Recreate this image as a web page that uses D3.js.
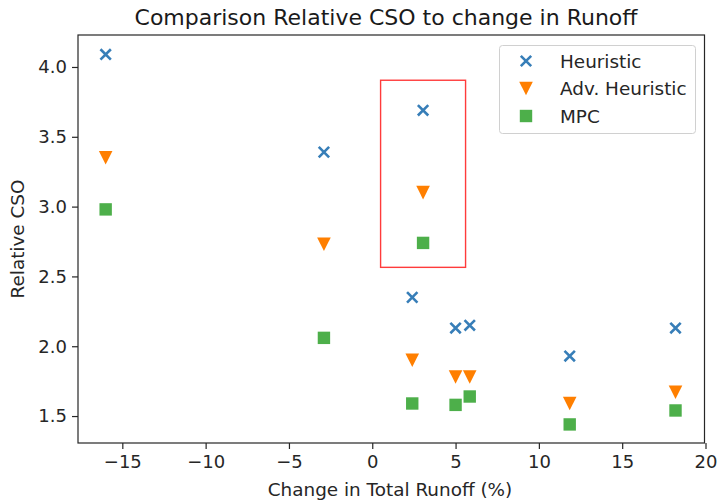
<!DOCTYPE html>
<html>
<head>
<meta charset="utf-8">
<script src="https://cdn.jsdelivr.net/npm/d3@7"></script>
<style>
  html, body { margin: 0; padding: 0; background: #ffffff; }
  svg { display: block; font-family: "DejaVu Sans", sans-serif; }
</style>
</head>
<body>
<svg id="chart" width="717" height="503"></svg>
<script>
// Change in total runoff (%) per scenario
const runoffChange = [-16.0, -2.9, 3.05, 2.4, 5.0, 5.85, 11.85, 18.2];

// Relative CSO per control strategy
const heuristic    = [4.09, 3.39, 3.69, 2.35, 2.13, 2.15, 1.93, 2.13];
const advHeuristic = [3.35, 2.73, 3.10, 1.90, 1.78, 1.78, 1.59, 1.67];
const mpc          = [2.98, 2.06, 2.74, 1.59, 1.58, 1.64, 1.44, 1.54];

const seriesNames = ["Heuristic", "Adv. Heuristic", "MPC"];
const xTicks = [-15, -10, -5, 0, 5, 10, 15, 20];
const yTicks = [1.5, 2.0, 2.5, 3.0, 3.5, 4.0];

// Highlighted region: x from 0.5 to 5.6, y from 2.565 to 3.905
const highlightX = [0.5, 5.6];
const highlightY = [2.565, 3.905];

const svg = d3.select("#chart");
const margin = { left: 78, right: 12.5, top: 35, bottom: 60 };
const W = 717, H = 503;

const x = d3.scaleLinear().domain([-17.66, 19.94]).range([margin.left, W - margin.right]);
const y = d3.scaleLinear().domain([1.307, 4.229]).range([H - margin.bottom, margin.top]);

const colors = ["#377eb8", "#ff7f00", "#4daf4a"];

// axes
const xAxis = svg.append("g")
  .attr("transform", `translate(0,${H - margin.bottom})`)
  .call(d3.axisBottom(x).tickValues(xTicks).tickSize(6).tickPadding(6)
    .tickFormat(d => d3.format("d")(d).replace("-", "\u2212")));
const yAxis = svg.append("g")
  .attr("transform", `translate(${margin.left},0)`)
  .call(d3.axisLeft(y).tickValues(yTicks).tickSize(6).tickPadding(5).tickFormat(d3.format(".1f")));

[xAxis, yAxis].forEach(g => {
  g.select(".domain").remove();
  g.selectAll(".tick line").attr("stroke", "#262626").attr("stroke-width", 1.2);
  g.selectAll(".tick text").attr("fill", "#262626").style("font-size", "18px")
    .style("font-family", "DejaVu Sans, sans-serif");
});

// frame
svg.append("rect")
  .attr("x", margin.left).attr("y", margin.top)
  .attr("width", W - margin.left - margin.right)
  .attr("height", H - margin.top - margin.bottom)
  .attr("fill", "none").attr("stroke", "#262626").attr("stroke-width", 1.2);

// title and labels
svg.append("text").attr("x", 386).attr("y", 25)
  .attr("text-anchor", "middle").style("font-size", "22px").attr("fill", "#1a1a1a")
  .text("Comparison Relative CSO to change in Runoff");
svg.append("text").attr("x", 390).attr("y", 496)
  .attr("text-anchor", "middle").style("font-size", "18.4px").attr("fill", "#262626")
  .text("Change in Total Runoff (%)");
svg.append("text")
  .attr("transform", `translate(24,${(margin.top + H - margin.bottom) / 2}) rotate(-90)`)
  .attr("text-anchor", "middle").style("font-size", "18.4px").attr("fill", "#262626")
  .text("Relative CSO");

// marker shapes
function drawMarker(g, kind, color) {
  if (kind === 0) {
    const s = 5.2;
    g.append("path").attr("d", `M${-s},${-s}L${s},${s}M${-s},${s}L${s},${-s}`)
      .attr("stroke", color).attr("stroke-width", 2.6).attr("fill", "none");
  } else if (kind === 1) {
    const s = 6.8;
    g.append("path").attr("d", `M${-s},${-s}L${s},${-s}L0,${s}Z`).attr("fill", color);
  } else {
    const s = 6.2;
    g.append("rect").attr("x", -s).attr("y", -s).attr("width", 2 * s).attr("height", 2 * s)
      .attr("fill", color);
  }
}

const allSeries = [heuristic, advHeuristic, mpc];
allSeries.forEach((vals, i) => {
  const g = svg.append("g");
  vals.forEach((v, j) => {
    const m = g.append("g").attr("transform", `translate(${x(runoffChange[j])},${y(v)})`);
    drawMarker(m, i, colors[i]);
  });
});

// highlight box
svg.append("rect")
  .attr("x", x(highlightX[0])).attr("y", y(highlightY[1]))
  .attr("width", x(highlightX[1]) - x(highlightX[0]))
  .attr("height", y(highlightY[0]) - y(highlightY[1]))
  .attr("fill", "none").attr("stroke", "#ff3b3b").attr("stroke-width", 1.4);

// legend
const lg = svg.append("g");
lg.append("rect").attr("x", 499.5).attr("y", 45.5).attr("width", 196).attr("height", 88).attr("rx", 3)
  .attr("fill", "#ffffff").attr("fill-opacity", 0.8).attr("stroke", "#d0d0d0").attr("stroke-width", 1);
seriesNames.forEach((name, i) => {
  const yy = 61 + i * 27.5;
  const m = lg.append("g").attr("transform", `translate(526,${yy})`);
  drawMarker(m, i, colors[i]);
  lg.append("text").attr("x", 560).attr("y", yy).attr("dy", "0.36em")
    .style("font-size", "18.4px").attr("fill", "#262626").text(name);
});
</script>
</body>
</html>
